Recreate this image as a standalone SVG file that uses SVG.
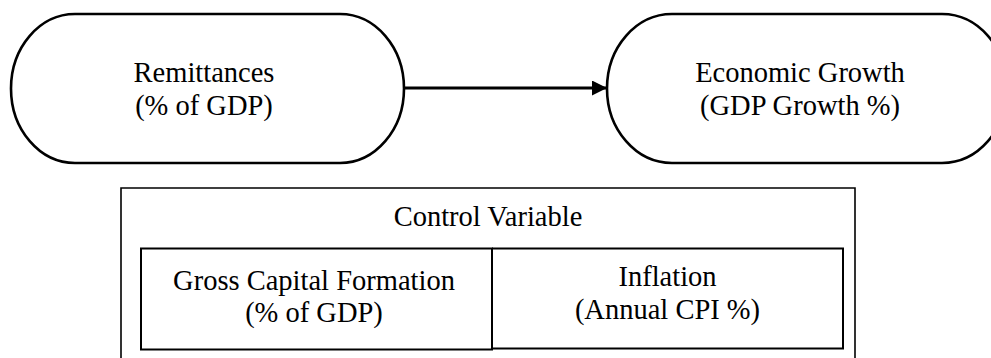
<svg xmlns="http://www.w3.org/2000/svg" width="991" height="358" viewBox="0 0 991 358">
<style>
.t{font-family:'Liberation Serif','Times New Roman',Times,'DejaVu Serif',serif;font-size:28.5px;fill:#000;text-anchor:middle}
.pill{fill:#fff;stroke:#000;stroke-width:2.6}
.box{fill:none;stroke:#000;stroke-width:1.6}
.inner{fill:none;stroke:#000;stroke-width:2}
</style>
<defs>
<marker id="ah" markerWidth="16" markerHeight="16" refX="15" refY="7.5" orient="auto" markerUnits="userSpaceOnUse">
<path d="M0,0 L15,7.5 L0,15 Z" fill="#000"/>
</marker>
</defs>
<g id="remittances">
<rect class="pill" x="11" y="14" width="393" height="149" rx="64" ry="74.5"/>
<text class="t" x="204" y="81.5">Remittances</text>
<text class="t" x="204" y="114.5">(% of GDP)</text>
</g>
<g id="growth">
<rect class="pill" x="607" y="14" width="400" height="149" rx="65" ry="74.5"/>
<text class="t" x="800" y="81.5">Economic Growth</text>
<text class="t" x="800" y="114.5">(GDP Growth %)</text>
</g>
<g id="connectors">
<line x1="405" y1="88" x2="607" y2="88" stroke="#000" stroke-width="3.2" marker-end="url(#ah)"/>
</g>
<g id="control">
<path class="box" d="M121,362 V188 H855 V362"/>
<text class="t" x="488" y="226">Control Variable</text>
</g>
<g id="gcf">
<rect class="inner" x="141" y="248.5" width="351" height="101"/>
<text class="t" x="314" y="290">Gross Capital Formation</text>
<text class="t" x="314" y="322">(% of GDP)</text>
</g>
<g id="inflation">
<path class="inner" d="M492,248.5 H843 V348.5 H492"/>
<text class="t" x="667.5" y="286">Inflation</text>
<text class="t" x="667.5" y="319">(Annual CPI %)</text>
</g>
</svg>
